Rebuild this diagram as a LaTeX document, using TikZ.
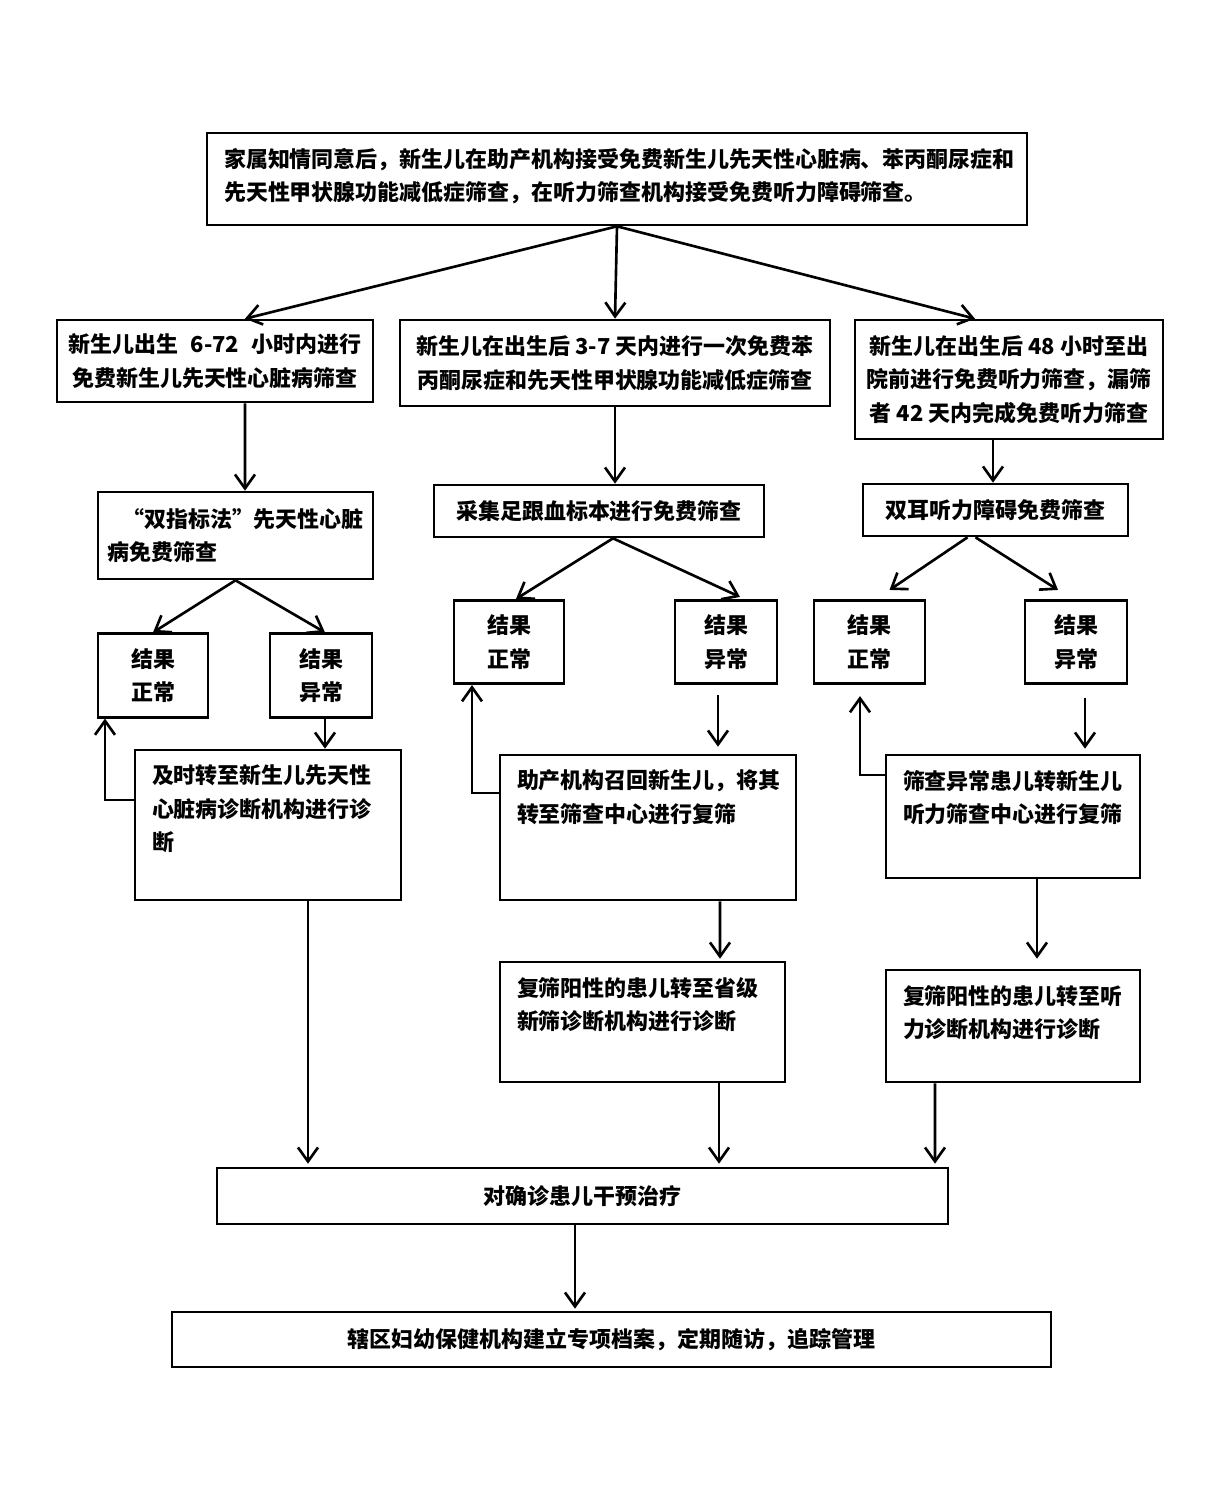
\documentclass[tikz,border=0pt]{standalone}
\usepackage{fontspec}
\newfontfamily\cjk{Noto Sans CJK SC}
\usetikzlibrary{arrows.meta, positioning, calc}
\newcommand{\toptext}[3]{\parbox[c][#2][t]{#1}{#3}}

\tikzset{
  boxbase/.style={draw, line width=1.5pt, font=\cjk\bfseries\fontsize{12.5}{19}\selectfont},
  box/.style={boxbase, inner sep=0pt, align=center},
  tbox/.style={boxbase, inner xsep=0.34cm, inner ysep=0.3cm},
  res/.style={box, minimum height=1.67cm},
  arr/.style={line width=1.5pt, -{Straight Barb[length=2.8mm,width=4mm]}},
}

\begin{document}
\begin{tikzpicture}[x=0.02cm, y=-0.02cm]
    \fill[white] (0,0) rectangle (1230,1499);
    \useasboundingbox (0,0) rectangle (1230,1499);

    \node[tbox] (top) at (617,179) {\toptext{15.72cm}{1.24cm}{家属知情同意后，新生儿在助产机构接受免费新生儿先天性心脏病、苯丙酮尿症和\\先天性甲状腺功能减低症筛查，在听力筛查机构接受免费听力障碍筛查。}};

    \node[box, minimum width=6.32cm, minimum height=1.64cm] (birth) at (215,361) {新生儿出生\hspace{0.25cm}6-72\hspace{0.25cm}小时内进行\\免费新生儿先天性心脏病筛查};
    \node[box, minimum width=8.6cm, minimum height=1.72cm] (pku) at (615,363) {新生儿在出生后 3-7 天内进行一次免费苯\\丙酮尿症和先天性甲状腺功能减低症筛查};
    \node[box, minimum width=6.16cm, minimum height=2.38cm] (hear) at (1009,379.5) {新生儿在出生后 48 小时至出\\院前进行免费听力筛查，漏筛\\者 42 天内完成免费听力筛查};

    \node[box, align=left, minimum width=5.5cm, minimum height=1.74cm] (heartscr) at (235.5,535.5) {\hspace*{0.3cm}“双指标法”先天性心脏\\病免费筛查};
    \node[box, minimum width=6.6cm, minimum height=1.04cm] (blood) at (599,511) {采集足跟血标本进行免费筛查};
    \node[box, minimum width=5.3cm, minimum height=1.04cm] (ears) at (995.5,510) {双耳听力障碍免费筛查};

    \node[res, minimum width=2.2cm] (hnorm) at (153,675.5) {结果\\正常};
    \node[res, minimum width=2.04cm] (habn) at (321,675.5) {结果\\异常};
    \node[res, minimum width=2.2cm] (pnorm) at (509,642) {结果\\正常};
    \node[res, minimum width=2.04cm] (pabn) at (726,642) {结果\\异常};
    \node[res, minimum width=2.22cm] (enorm) at (869.5,642) {结果\\正常};
    \node[res, minimum width=2.04cm] (eabn) at (1076,642) {结果\\异常};

    \node[tbox] (hdiag) at (268,825) {\toptext{4.64cm}{2.4cm}{及时转至新生儿先天性\\心脏病诊断机构进行诊\\断}};
    \node[tbox] (precall) at (648,827.5) {\toptext{5.24cm}{2.3cm}{助产机构召回新生儿，将其\\转至筛查中心进行复筛}};
    \node[tbox] (erecheck) at (1013,816.5) {\toptext{4.4cm}{1.86cm}{筛查异常患儿转新生儿\\听力筛查中心进行复筛}};
    \node[tbox] (pdiag) at (642.5,1022) {\toptext{5.02cm}{1.8cm}{复筛阳性的患儿转至省级\\新筛诊断机构进行诊断}};
    \node[tbox] (ediag) at (1013,1026) {\toptext{4.4cm}{1.64cm}{复筛阳性的患儿转至听\\力诊断机构进行诊断}};

    \node[box, minimum width=14.62cm, minimum height=1.12cm] (treat) at (582.5,1196) {对确诊患儿干预治疗};
    \node[box, minimum width=17.58cm, minimum height=1.1cm] (follow) at (611.5,1339.5) {辖区妇幼保健机构建立专项档案，定期随访，追踪管理};

    \draw[arr] (top.south) -- ($(birth.north)+(30,0)$);
    \draw[arr] (top.south) -- (pku.north);
    \draw[arr] (top.south) -- ($(hear.north)+(-34,0)$);

    \draw[arr] ($(birth.south)+(30,0)$) -- ($(heartscr.north)+(9.5,0)$);
    \draw[arr] (pku.south) -- ($(blood.north)+(16,0)$);
    \draw[arr] ($(hear.south)+(-16,0)$) -- ($(ears.north)+(-2.5,0)$);

    \draw[arr] (heartscr.south) -- (hnorm.north);
    \draw[arr] (heartscr.south) -- ($(habn.north)+(4,0)$);
    \draw[arr] ($(blood.south)+(14,0)$) -- ($(pnorm.north)+(7,0)$);
    \draw[arr] ($(blood.south)+(14,0)$) -- ($(pabn.north)+(14,-2)$);
    \draw[arr] ($(ears.south)+(-28,0)$) -- ($(enorm.north)+(20,-9)$);
    \draw[arr] ($(ears.south)+(-20,0)$) -- ($(eabn.north)+(-18,-9)$);

    \draw[arr] ($(habn.south)+(4,0)$) -- ($(hdiag.north)+(57,0)$);
    \draw[arr] ($(hdiag.west)+(0,-25)$) -| ($(hnorm.south)+(-48,0)$);
    \draw[arr] ($(pabn.south)+(-8,10)$) -- ($(precall.north)+(70,-7)$);
    \draw[arr] ($(precall.west)+(0,-34.5)$) -| ($(pnorm.south)+(-37,0)$);
    \draw[arr] ($(eabn.south)+(9,13)$) -- ($(erecheck.north)+(72,-5)$);
    \draw[arr] ($(erecheck.west)+(0,-41.5)$) -| ($(enorm.south)+(-9.5,11)$);

    \draw[arr] ($(precall.south)+(72,0)$) -- ($(pdiag.north)+(77.5,-2)$);
    \draw[arr] ($(erecheck.south)+(24,0)$) -- ($(ediag.north)+(24,-10)$);

    \draw[arr] ($(hdiag.south)+(40,0)$) -- ($(treat.north)+(-274.5,-3)$);
    \draw[arr] ($(pdiag.south)+(76.5,0)$) -- ($(treat.north)+(136.5,-3)$);
    \draw[arr] ($(ediag.south)+(-78,0)$) -- ($(treat.north)+(352.5,-3)$);
    \draw[arr] ($(treat.south)+(-7.5,0)$) -- ($(follow.north)+(-36.5,-2)$);
\end{tikzpicture}
\end{document}
